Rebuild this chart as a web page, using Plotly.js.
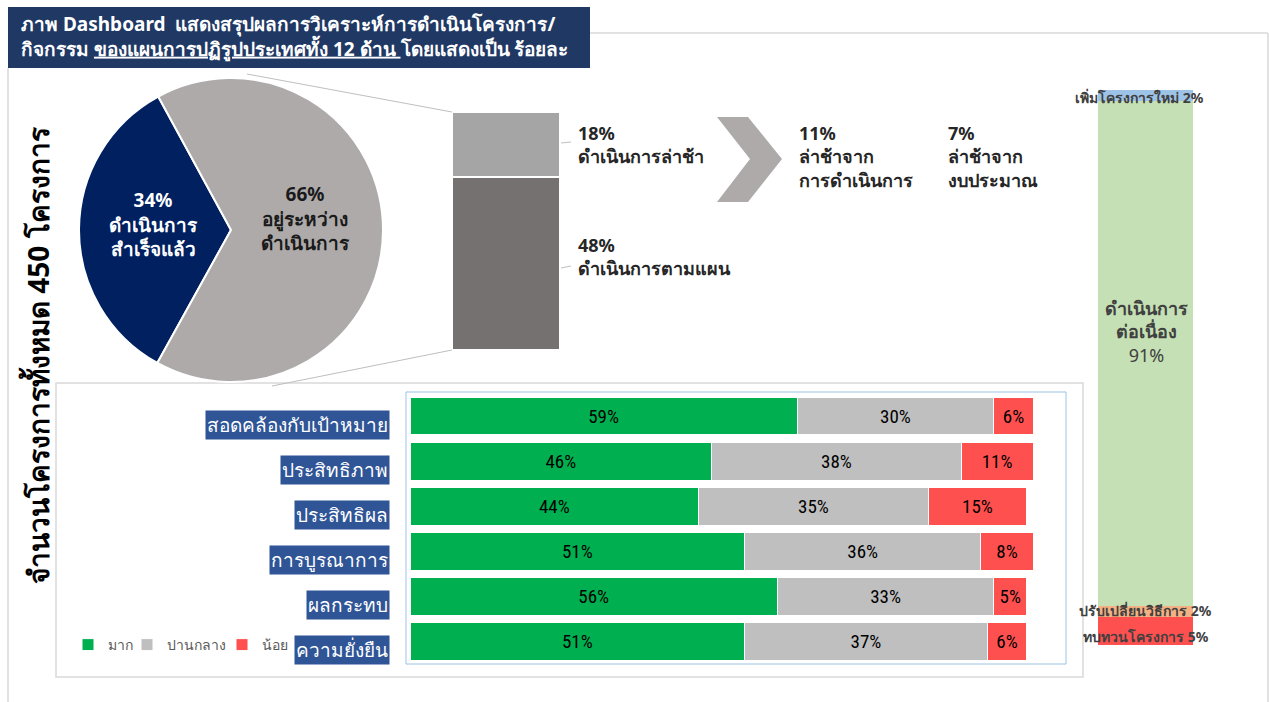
<!DOCTYPE html>
<html>
<head>
<meta charset="utf-8">
<script src="https://cdn.plot.ly/plotly-3.0.1.min.js"></script>
<style>html,body{margin:0;padding:0;background:#fff;}#chart{width:1269px;height:702px;}</style>
</head>
<body>
<div id="chart"></div>
<script>
// ---------- DATA ----------
const pieLabels = ['ดำเนินการ<br>สำเร็จแล้ว', 'อยู่ระหว่าง<br>ดำเนินการ'];
const pieValues = [34, 66];
const progressLabels = ['ดำเนินการตามแผน', 'ดำเนินการล่าช้า'];
const progressValues = [48, 18];
const delayLabels = ['ล่าช้าจาก<br>การดำเนินการ', 'ล่าช้าจาก<br>งบประมาณ'];
const delayValues = [11, 7];
const statusLabels = ['ทบทวนโครงการ', 'ปรับเปลี่ยนวิธีการ', 'ดำเนินการ<br>ต่อเนื่อง', 'เพิ่มโครงการใหม่'];
const statusValues = [5, 2, 91, 2];
const criteria = ['สอดคล้องกับเป้าหมาย', 'ประสิทธิภาพ', 'ประสิทธิผล', 'การบูรณาการ', 'ผลกระทบ', 'ความยั่งยืน'];
const levelNames = ['มาก', 'ปานกลาง', 'น้อย'];
const highValues = [59, 46, 44, 51, 56, 51];
const midValues = [30, 38, 35, 36, 33, 37];
const lowValues = [6, 11, 15, 8, 5, 6];
const titleLines = ['ภาพ Dashboard  แสดงสรุปผลการวิเคราะห์การดำเนินโครงการ/',
                    'กิจกรรม <u>ของแผนการปฏิรูปประเทศทั้ง 12 ด้าน </u>โดยแสดงเป็น ร้อยละ'];
const totalLabel = 'จำนวนโครงการทั้งหมด 450 โครงการ';

// ---------- HELPERS ----------
const W = 1269, H = 702;
const X = px => px / W;
const Y = py => 1 - py / H;
const FONT = 'Noto Sans, Tahoma, Arial, sans-serif';
const NARROW = 'Liberation Sans Narrow, Arial Narrow, Roboto Condensed, Liberation Sans, sans-serif';

const traces = [];

// Pie
traces.push({
  type: 'pie', values: pieValues, labels: pieLabels, sort: false,
  direction: 'counterclockwise', rotation: -151,
  marker: {colors: ['#002060', '#AEAAAA'], line: {color: '#ffffff', width: 2}},
  textinfo: 'none', hoverinfo: 'label+value', showlegend: false,
  domain: {x: [X(79), X(383)], y: [Y(382), Y(78)]}
});

// Middle progress stacked bar
const progColors = ['#767171', '#A5A5A5'];
progressValues.forEach((v, i) => {
  traces.push({
    type: 'bar', x: [0], y: [v], width: 1, xaxis: 'x2', yaxis: 'y2',
    name: progressLabels[i], showlegend: false,
    marker: {color: progColors[i], line: {color: '#ffffff', width: 2.5}},
    hoverinfo: 'name+y'
  });
});

// Right status stacked bar
const statusColors = ['#FF5050', '#F4B183', '#C5E0B4', '#9DC3E6'];
statusValues.forEach((v, i) => {
  traces.push({
    type: 'bar', x: [0], y: [v], width: 1, xaxis: 'x3', yaxis: 'y3',
    name: statusLabels[i], showlegend: false,
    marker: {color: statusColors[i]}, hoverinfo: 'y'
  });
});

// Bottom horizontal stacked bars
const levelColors = ['#00B050', '#BFBFBF', '#FF5050'];
const legendIds = ['legend', 'legend2', 'legend3'];
[highValues, midValues, lowValues].forEach((vals, i) => {
  traces.push({
    type: 'bar', orientation: 'h', y: criteria, x: vals, width: 0.84,
    xaxis: 'x4', yaxis: 'y4', name: levelNames[i], legend: legendIds[i],
    marker: {color: levelColors[i], line: {color: '#ffffff', width: 1}},
    texttemplate: '%{x}%', textposition: 'inside', insidetextanchor: 'middle',
    textangle: 0, constraintext: 'none',
    textfont: {family: NARROW, size: 19, color: '#000000'},
    hoverinfo: 'name+x'
  });
});

// ---------- SHAPES ----------
const grey = '#D9D9D9';
const shapes = [
  {type: 'rect', xref: 'paper', yref: 'paper', x0: X(8), x1: X(590), y0: Y(68), y1: Y(7), fillcolor: '#1F3864', line: {width: 0}, layer: 'below'},
  {type: 'line', xref: 'paper', yref: 'paper', x0: X(590), x1: X(1268), y0: Y(33), y1: Y(33), line: {color: grey, width: 1.5}},
  {type: 'line', xref: 'paper', yref: 'paper', x0: X(1268), x1: X(1268), y0: Y(33), y1: Y(702), line: {color: grey, width: 1.5}},
  {type: 'line', xref: 'paper', yref: 'paper', x0: X(8), x1: X(8), y0: Y(68), y1: Y(702), line: {color: grey, width: 1.5}},
  {type: 'rect', xref: 'paper', yref: 'paper', x0: X(56), x1: X(1083), y0: Y(677), y1: Y(383), line: {color: grey, width: 1.5}, layer: 'below'},
  {type: 'rect', xref: 'paper', yref: 'paper', x0: X(406), x1: X(1066), y0: Y(664), y1: Y(392), line: {color: '#9DC3E6', width: 1}, layer: 'below'},
  {type: 'line', xref: 'paper', yref: 'paper', x0: X(247), y0: Y(74), x1: X(452), y1: Y(112), line: {color: '#BFBFBF', width: 1}},
  {type: 'line', xref: 'paper', yref: 'paper', x0: X(272), y0: Y(386), x1: X(452), y1: Y(350), line: {color: '#BFBFBF', width: 1}},
  {type: 'line', xref: 'paper', yref: 'paper', x0: X(561), y0: Y(143), x1: X(571), y1: Y(142), line: {color: '#BFBFBF', width: 1}},
  {type: 'line', xref: 'paper', yref: 'paper', x0: X(561), y0: Y(268), x1: X(571), y1: Y(266), line: {color: '#BFBFBF', width: 1}},
  {type: 'path', xref: 'paper', yref: 'paper', fillcolor: '#AEAAAA', line: {width: 0},
   path: `M ${X(717)} ${Y(117)} L ${X(748)} ${Y(117)} L ${X(782)} ${Y(159)} L ${X(748)} ${Y(202)} L ${X(717)} ${Y(202)} L ${X(750)} ${Y(159)} Z`}
];

// ---------- ANNOTATIONS ----------
const ann = [];
const A = (o) => ann.push(Object.assign({xref: 'paper', yref: 'paper', showarrow: false,
                                         xanchor: 'center', yanchor: 'middle'}, o));

A({x: X(19), y: Y(9), xanchor: 'left', yanchor: 'top', align: 'left',
   text: '<b>' + titleLines.join('<br>') + '</b>', font: {family: FONT, size: 19, color: '#ffffff'}});

A({x: X(37), y: Y(356), textangle: -90, text: '<b>' + totalLabel + '</b>',
   font: {family: FONT, size: 28, color: '#000000'}});

// pie labels
A({x: X(153), y: Y(224), text: `<b>${pieValues[0]}%<br>${pieLabels[0]}</b>`,
   font: {family: FONT, size: 19, color: '#ffffff'}});
A({x: X(305), y: Y(218), text: `<b>${pieValues[1]}%<br>${pieLabels[1]}</b>`,
   font: {family: FONT, size: 19, color: '#1a1a1a'}});

// progress bar labels
A({x: X(576), y: Y(119), xanchor: 'left', yanchor: 'top', align: 'left',
   text: `<b>${progressValues[1]}%<br>${progressLabels[1]}</b>`, font: {family: FONT, size: 18, color: '#262626'}});
A({x: X(576), y: Y(231), xanchor: 'left', yanchor: 'top', align: 'left',
   text: `<b>${progressValues[0]}%<br>${progressLabels[0]}</b>`, font: {family: FONT, size: 18, color: '#262626'}});

// delay labels
A({x: X(797), y: Y(119), xanchor: 'left', yanchor: 'top', align: 'left',
   text: `<b>${delayValues[0]}%<br>${delayLabels[0]}</b>`, font: {family: FONT, size: 18, color: '#262626'}});
A({x: X(946), y: Y(119), xanchor: 'left', yanchor: 'top', align: 'left',
   text: `<b>${delayValues[1]}%<br>${delayLabels[1]}</b>`, font: {family: FONT, size: 18, color: '#262626'}});

// status labels
A({x: X(1139), y: Y(97), text: `<b>${statusLabels[3]} ${statusValues[3]}%</b>`, font: {family: FONT, size: 14, color: '#404040'}});
A({x: X(1146), y: Y(331), text: `<b>${statusLabels[2]}</b><br>${statusValues[2]}%`, font: {family: FONT, size: 18, color: '#404040'}});
A({x: X(1145), y: Y(610), text: `<b>${statusLabels[1]} ${statusValues[1]}%</b>`, font: {family: FONT, size: 14, color: '#404040'}});
A({x: X(1146), y: Y(636), text: `<b>${statusLabels[0]} ${statusValues[0]}%</b>`, font: {family: FONT, size: 14, color: '#404040'}});

// category labels
criteria.forEach(c => {
  ann.push({xref: 'paper', yref: 'y4', x: X(390), y: c, xanchor: 'right', yanchor: 'middle', yshift: -9, showarrow: false,
    text: c, bgcolor: '#2F5597', borderpad: 1, font: {family: FONT, size: 19, color: '#ffffff'}});
});

const hidden = {visible: false, fixedrange: true};
const legBase = {orientation: 'h', yanchor: 'middle', xanchor: 'left', y: Y(645),
                 font: {family: FONT, size: 14, color: '#595959'}, bgcolor: 'rgba(0,0,0,0)', itemwidth: 30};

const layout = {
  width: W, height: H, margin: {l: 0, r: 0, t: 0, b: 0},
  paper_bgcolor: '#ffffff', plot_bgcolor: 'rgba(0,0,0,0)',
  barmode: 'stack', font: {family: FONT},
  showlegend: true,
  legend: Object.assign({}, legBase, {x: X(68)}),
  legend2: Object.assign({}, legBase, {x: X(127)}),
  legend3: Object.assign({}, legBase, {x: X(222)}),
  xaxis2: Object.assign({domain: [X(452), X(560)], anchor: 'y2', range: [-0.5, 0.5]}, hidden),
  yaxis2: Object.assign({domain: [Y(350), Y(112)], anchor: 'x2', range: [0, 66]}, hidden),
  xaxis3: Object.assign({domain: [X(1098), X(1193)], anchor: 'y3', range: [-0.5, 0.5]}, hidden),
  yaxis3: Object.assign({domain: [Y(645), Y(90)], anchor: 'x3', range: [0, 100]}, hidden),
  xaxis4: {domain: [X(410), X(1066)], anchor: 'y4', range: [0, 100], showgrid: false, zeroline: false,
           showticklabels: false, showline: false, fixedrange: true},
  yaxis4: {domain: [Y(664), Y(392)], anchor: 'x4', type: 'category', autorange: 'reversed',
           showgrid: false, zeroline: false, showticklabels: false, showline: false, fixedrange: true},
  shapes: shapes,
  annotations: ann
};

Plotly.newPlot('chart', traces, layout, {displayModeBar: false});
</script>
</body>
</html>
